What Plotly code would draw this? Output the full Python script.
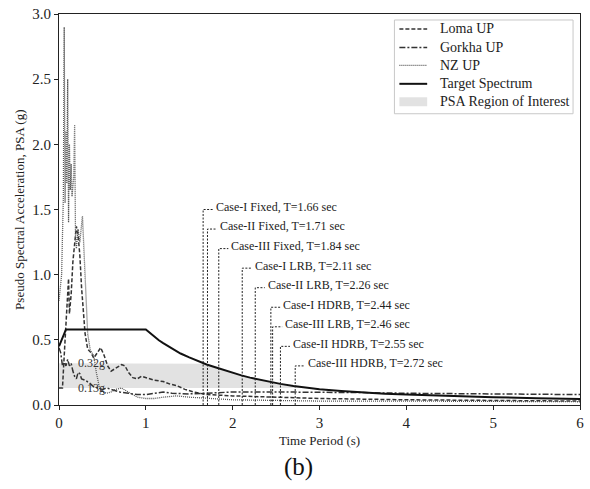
import numpy as np
import plotly.graph_objects as go

# ---- response spectra (period in s, PSA in g) ----
loma_T = [0, 0.04, 0.07, 0.09, 0.10, 0.11, 0.12, 0.14, 0.16, 0.18, 0.20, 0.22, 0.24, 0.26,
          0.28, 0.30, 0.33, 0.37, 0.40, 0.44, 0.48, 0.52, 0.56, 0.60, 0.65, 0.72, 0.76, 0.80,
          0.85, 0.90, 0.95, 1.00, 1.10, 1.20, 1.28, 1.35, 1.45, 1.55, 1.70, 2.0, 2.5, 3.0,
          4.0, 5.0, 6.0]
loma_psa = [0.13, 0.13, 0.50, 0.75, 0.92, 0.97, 0.70, 0.85, 1.10, 1.25, 1.37, 1.30, 1.15, 0.90,
            0.70, 0.55, 0.43, 0.40, 0.36, 0.40, 0.44, 0.38, 0.30, 0.26, 0.28, 0.31, 0.30, 0.25,
            0.21, 0.20, 0.22, 0.21, 0.19, 0.18, 0.16, 0.15, 0.12, 0.10, 0.08, 0.07, 0.06, 0.05,
            0.04, 0.035, 0.03]

gorkha_T = [0, 0.02, 0.04, 0.06, 0.08, 0.10, 0.12, 0.14, 0.16, 0.18, 0.20, 0.22, 0.24, 0.26,
            0.30, 0.35, 0.40, 0.45, 0.50, 0.55, 0.60, 0.70, 0.80, 0.90, 1.00, 1.10, 1.20, 1.30,
            1.50, 1.70, 2.0, 2.5, 3.0, 3.5, 4.0, 5.0, 6.0]
gorkha_psa = [0.44, 0.40, 0.30, 0.33, 0.30, 0.35, 0.30, 0.32, 0.26, 0.22, 0.20, 0.25, 0.24, 0.20,
              0.19, 0.17, 0.14, 0.13, 0.12, 0.13, 0.12, 0.10, 0.09, 0.08, 0.08, 0.09, 0.10, 0.09,
              0.085, 0.09, 0.10, 0.10, 0.10, 0.095, 0.09, 0.085, 0.08]

nz_T = [0, 0.03, 0.05, 0.06, 0.07, 0.08, 0.09, 0.10, 0.11, 0.12, 0.13, 0.14, 0.15, 0.17, 0.18,
        0.19, 0.20, 0.22, 0.24, 0.27, 0.30, 0.33, 0.36, 0.40, 0.43, 0.47, 0.50, 0.55, 0.60,
        0.65, 0.72, 0.80, 0.90, 1.00, 1.10, 1.20, 1.35, 1.50, 1.70, 2.0, 2.5, 3.0, 4.0, 5.0, 6.0]
nz_psa = [0.80, 1.00, 1.60, 2.90, 1.55, 2.10, 1.70, 2.50, 1.40, 2.00, 1.65, 1.85, 1.60, 1.75, 2.15,
          1.30, 1.20, 1.35, 1.25, 1.45, 1.00, 0.55, 0.42, 0.38, 0.25, 0.12, 0.10, 0.09, 0.10,
          0.12, 0.13, 0.10, 0.06, 0.05, 0.05, 0.06, 0.07, 0.06, 0.05, 0.04, 0.035, 0.03, 0.03,
          0.025, 0.025]

target_T = [0, 0.08, 1.0, 1.05, 1.1, 1.15, 1.2, 1.3, 1.4, 1.5, 1.6, 1.7, 1.8, 1.9, 2.0, 2.1,
            2.2, 2.3, 2.4, 2.55, 2.7, 2.85, 3.0, 3.25, 3.5, 3.75, 4.0, 4.5, 5.0, 5.5, 6.0]
target_psa = [0.45, 0.58, 0.58, 0.55, 0.52, 0.497, 0.475, 0.435, 0.395, 0.365, 0.335, 0.311,
              0.29, 0.267, 0.245, 0.227, 0.21, 0.195, 0.18, 0.162, 0.145, 0.132, 0.12, 0.107,
              0.095, 0.087, 0.08, 0.068, 0.06, 0.052, 0.046]

# PSA region of interest bounds (g)
roi_low = 0.13
roi_high = 0.32

# fundamental periods of the structural cases
case_labels = ["Case-I Fixed", "Case-II Fixed", "Case-III Fixed", "Case-I LRB", "Case-II LRB",
               "Case-I HDRB", "Case-III LRB", "Case-II HDRB", "Case-III HDRB"]
case_T = [1.66, 1.71, 1.84, 2.11, 2.26, 2.44, 2.46, 2.55, 2.72]
label_height = [1.50, 1.35, 1.20, 1.05, 0.90, 0.75, 0.60, 0.45, 0.30]

FONT = "Liberation Serif"
INK = "#222222"
LOMA_LINE = dict(color="#333333", width=1.5, dash="4px,2px")
GORKHA_LINE = dict(color="#333333", width=1.5, dash="6px,2px,2px,2px")
NZ_LINE = dict(color="#555555", width=1.3, dash="1px,1px")
TARGET_LINE = dict(color="#111111", width=2)
BAND_FILL = "#e2e2e2"

fig = go.Figure()

# shaded band: between the lower bound and the lesser of the upper bound / target
band_T = np.linspace(0, 2.85, 200)
band_top = np.minimum(roi_high, np.interp(band_T, target_T, target_psa))
fig.add_trace(go.Scatter(x=band_T, y=np.full_like(band_T, roi_low), mode="lines",
                         line=dict(width=0), hoverinfo="skip"))
fig.add_trace(go.Scatter(x=band_T, y=band_top, mode="lines", fill="tonexty",
                         fillcolor=BAND_FILL, line=dict(width=0),
                         name="PSA Region of Interest"))

fig.add_trace(go.Scatter(x=loma_T, y=loma_psa, mode="lines", name="Loma UP", line=LOMA_LINE))
fig.add_trace(go.Scatter(x=gorkha_T, y=gorkha_psa, mode="lines", name="Gorkha UP", line=GORKHA_LINE))
fig.add_trace(go.Scatter(x=nz_T, y=nz_psa, mode="lines", name="NZ UP", line=NZ_LINE))
fig.add_trace(go.Scatter(x=target_T, y=target_psa, mode="lines", name="Target Spectrum",
                         line=TARGET_LINE))

# period markers with labels
for lab, t, h in zip(case_labels, case_T, label_height):
    fig.add_trace(go.Scatter(x=[t, t, t + 0.11], y=[0, h, h], mode="lines",
                             line=dict(color=INK, width=1, dash="2px,1.5px"),
                             hoverinfo="skip"))
    fig.add_annotation(x=t + 0.11, y=h + 0.02, text=f"{lab}, T={t:.2f} sec", showarrow=False,
                       xanchor="left", yanchor="middle", xshift=1,
                       font=dict(family=FONT, size=12, color=INK))

for val in (roi_high, roi_low):
    fig.add_annotation(x=0.2, y=val, text=f"{val:.2f}g", showarrow=False, xanchor="left",
                       yanchor="middle", font=dict(family=FONT, size=12, color="#333333"))

# axis titles and panel tag
fig.add_annotation(x=-0.076, y=0.5, xref="paper", yref="paper", textangle=-90,
                   xanchor="center", yanchor="middle",
                   text="Pseudo Spectral Acceleration, PSA (g)", showarrow=False,
                   font=dict(family=FONT, size=13, color=INK))
fig.add_annotation(x=0.5, y=-0.092, xref="paper", yref="paper", xanchor="center",
                   yanchor="middle", text="Time Period (s)", showarrow=False,
                   font=dict(family=FONT, size=13, color=INK))
fig.add_annotation(x=0.46, y=-0.158, xref="paper", yref="paper", xanchor="center",
                   yanchor="middle", text="(b)", showarrow=False,
                   font=dict(family=FONT, size=25, color="#111111"))

# legend panel (pixel layout converted to paper fractions)
PLOT_L, PLOT_W, PLOT_B, PLOT_H = 59, 525, 405, 392


def px(xp):
    return (xp - PLOT_L) / PLOT_W


def py(yp):
    return (PLOT_B - yp) / PLOT_H


fig.add_shape(type="rect", xref="paper", yref="paper", x0=px(397), x1=px(577),
              y0=py(113), y1=py(19), line=dict(color="#c8c8c8", width=1),
              fillcolor="white", layer="above")
legend_rows = [("Loma UP", LOMA_LINE), ("Gorkha UP", GORKHA_LINE), ("NZ UP", NZ_LINE),
               ("Target Spectrum", TARGET_LINE), ("PSA Region of Interest", None)]
row_y = [28, 46.5, 64.5, 83, 101]
for (name, style), yrow in zip(legend_rows, row_y):
    if style is None:
        fig.add_shape(type="rect", xref="paper", yref="paper", x0=px(402), x1=px(430),
                      y0=py(yrow + 4.5), y1=py(yrow - 4.5), line=dict(width=0),
                      fillcolor=BAND_FILL, layer="above")
    else:
        fig.add_shape(type="line", xref="paper", yref="paper", x0=px(402), x1=px(430),
                      y0=py(yrow), y1=py(yrow), line=style, layer="above")
    fig.add_annotation(x=px(441), y=py(yrow), xref="paper", yref="paper", text=name,
                       showarrow=False, xanchor="left", yanchor="middle",
                       font=dict(family=FONT, size=14, color=INK))

axis_common = dict(showgrid=False, zeroline=False, showline=True, linecolor=INK,
                   linewidth=1, mirror=True, ticks="outside", ticklen=4, tickcolor=INK,
                   tickfont=dict(family=FONT, size=15, color=INK))
fig.update_xaxes(range=[0, 6], dtick=1, **axis_common)
fig.update_yaxes(range=[0, 3.0], dtick=0.5, tickformat=".1f", **axis_common)

fig.update_layout(
    width=590, height=489,
    margin=dict(l=59, r=6, t=13, b=84),
    paper_bgcolor="white", plot_bgcolor="white",
    showlegend=False,
)

fig.write_html("out.html")
